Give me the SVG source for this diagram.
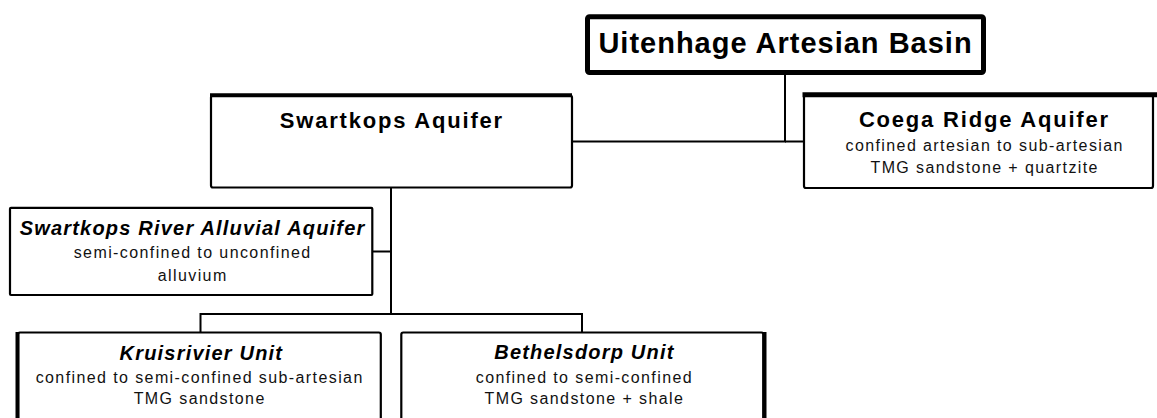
<svg xmlns="http://www.w3.org/2000/svg" width="1157" height="418" viewBox="0 0 1157 418">
<style>
.box{fill:#fff;stroke:#000;stroke-width:2.2}
.thick{stroke:#000;stroke-width:5;fill:none;stroke-linecap:square}
.conn{stroke:#000;stroke-width:2;fill:none}
text{font-family:"Liberation Sans",Arial,sans-serif;fill:#000;text-anchor:middle}
.root{font-size:29px;font-weight:bold;letter-spacing:1px}
.ttl{font-size:22px;font-weight:bold;letter-spacing:1.8px}
.ittl{font-size:20px;font-weight:bold;font-style:italic;letter-spacing:1.2px}
.sub{font-size:16px;letter-spacing:1.4px;fill:#111}
</style>
<rect width="1157" height="418" fill="#fff"/>
<g id="connectors">
<path class="conn" d="M785 74V141.5H572"/>
<path class="conn" d="M785 141.5H804"/>
<path class="conn" d="M391 188V314"/>
<path class="conn" d="M372 251.5H391"/>
<path class="conn" d="M200.5 332V314H582V332"/>
</g>
<g id="root">
<rect x="587.5" y="16.8" width="396" height="55.7" rx="2" fill="#fff" stroke="#000" stroke-width="5"/>
<text class="root" x="785.5" y="53.3">Uitenhage Artesian Basin</text>
</g>
<g id="swartkops">
<rect class="box" x="211" y="95.5" width="361" height="92" rx="2"/>
<line class="thick" x1="212" y1="95.3" x2="570" y2="95.3" style="stroke-width:4"/>
<text class="ttl" x="391.9" y="127.5">Swartkops Aquifer</text>
</g>
<g id="coega">
<rect class="box" x="804" y="95.5" width="349" height="92.5" rx="2"/>
<line class="thick" x1="805" y1="94.8" x2="1160" y2="94.8"/>
<text class="ttl" x="984.4" y="127.3">Coega Ridge Aquifer</text>
<text class="sub" x="984.7" y="150.7">confined artesian to sub-artesian</text>
<text class="sub" x="984.7" y="173.3">TMG sandstone + quartzite</text>
</g>
<g id="alluvial">
<rect class="box" x="10" y="207.8" width="362.3" height="87.2" rx="1"/>
<text class="ittl" x="192.6" y="235">Swartkops River Alluvial Aquifer</text>
<text class="sub" x="192.7" y="258.3">semi-confined to unconfined</text>
<text class="sub" x="192.7" y="280.7">alluvium</text>
</g>
<g id="kruisrivier">
<rect class="box" x="18" y="332.5" width="362.8" height="100" rx="2"/>
<line class="thick" x1="17.5" y1="334" x2="17.5" y2="430" style="stroke-width:4"/>
<text class="ittl" x="201.4" y="360">Kruisrivier Unit</text>
<text class="sub" x="199.7" y="382.7">confined to semi-confined sub-artesian</text>
<text class="sub" x="199.7" y="404.3">TMG sandstone</text>
</g>
<g id="bethelsdorp">
<rect class="box" x="401.3" y="332.5" width="362" height="100" rx="2"/>
<line class="thick" x1="764.5" y1="334" x2="764.5" y2="430" style="stroke-width:4"/>
<text class="ittl" x="584.4" y="359">Bethelsdorp Unit</text>
<text class="sub" x="584.4" y="382.7">confined to semi-confined</text>
<text class="sub" x="584.4" y="404.3">TMG sandstone + shale</text>
</g>
</svg>
